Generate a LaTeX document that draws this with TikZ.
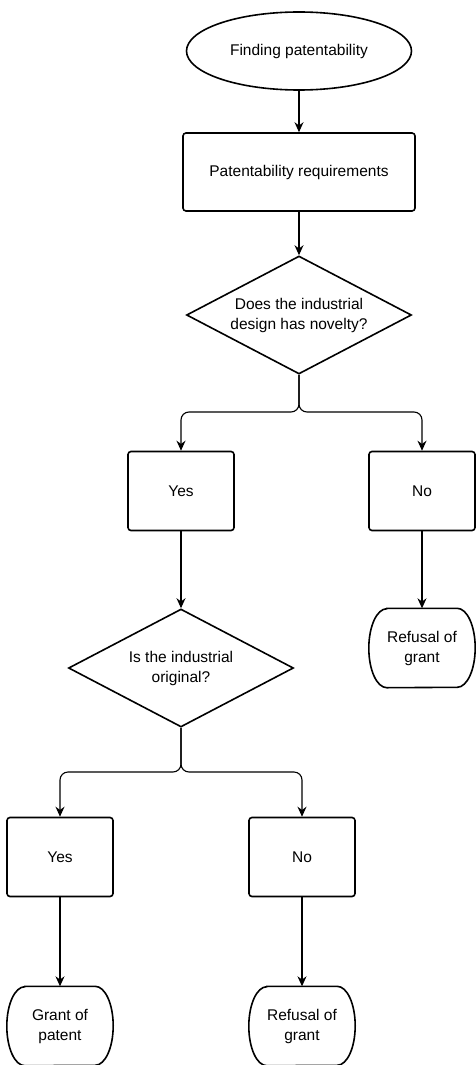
\documentclass[tikz,border=0pt]{standalone}
\usepackage{fontspec}
\setmainfont{Liberation Sans}
\usetikzlibrary{shapes.geometric,arrows.meta}

\begin{document}
\begin{tikzpicture}[x=1pt,y=-1pt,
  font=\fontsize{15.5}{20}\selectfont,
  box/.style={draw, line width=1.6pt, rounded corners=3pt, align=center, minimum width=106pt, minimum height=79pt},
  ask/.style={draw, diamond, aspect=1.9, line width=1.6pt, align=center, inner sep=0pt, minimum width=225pt, minimum height=118pt},
  term/.style={align=center, minimum width=106pt, minimum height=79pt},
  link/.style={draw, line width=1.1pt, -{Stealth[length=10pt,width=9pt]}}]
\useasboundingbox (0,0) rectangle (476,1065);
\node[draw, ellipse, line width=1.6pt, minimum width=225pt, minimum height=78pt] (1) at (299,51) {Finding patentability};
\node[box, minimum width=232pt, minimum height=78pt] (2) at (299,172) {Patentability requirements};
\node[ask] (3) at (299,315) {Does the industrial\\design has novelty?};
\node[box] (4) at (181,491) {Yes};
\node[box] (5) at (422,491) {No};
\node[term] (6) at (422,648) {Refusal of\\grant};
\node[ask] (7) at (181,668) {Is the industrial\\original?};
\node[box] (8) at (60,857) {Yes};
\node[box] (9) at (302,857) {No};
\node[term] (10) at (60,1026) {Grant of\\patent};
\node[term] (11) at (302,1026) {Refusal of\\grant};
\coordinate (s1) at (299,412);
\coordinate (s2) at (181,772);

% end shapes
\foreach \n in {6,10,11}
  \draw[line width=1.6pt] ([xshift=18pt]\n.north west) -- ([xshift=-18pt]\n.north east)
    arc[start angle=90, end angle=-90, x radius=18pt, y radius=39.5pt]
    -- ([xshift=18pt]\n.south west)
    arc[start angle=270, end angle=90, x radius=18pt, y radius=39.5pt] -- cycle;

\path[link] (1) -- (2);
\path[link] (2) -- (3);
\path[link, rounded corners=8pt] (3.south) -- (s1) -| (4.north);
\path[link, rounded corners=8pt] (3.south) -- (s1) -| (5.north);
\path[link] (4) -- (7);
\path[link] (5) -- (6);
\path[link, rounded corners=8pt] (7.south) -- (s2) -| (8.north);
\path[link, rounded corners=8pt] (7.south) -- (s2) -| (9.north);
\path[link] (8) -- (10);
\path[link] (9) -- (11);
\end{tikzpicture}
\end{document}
